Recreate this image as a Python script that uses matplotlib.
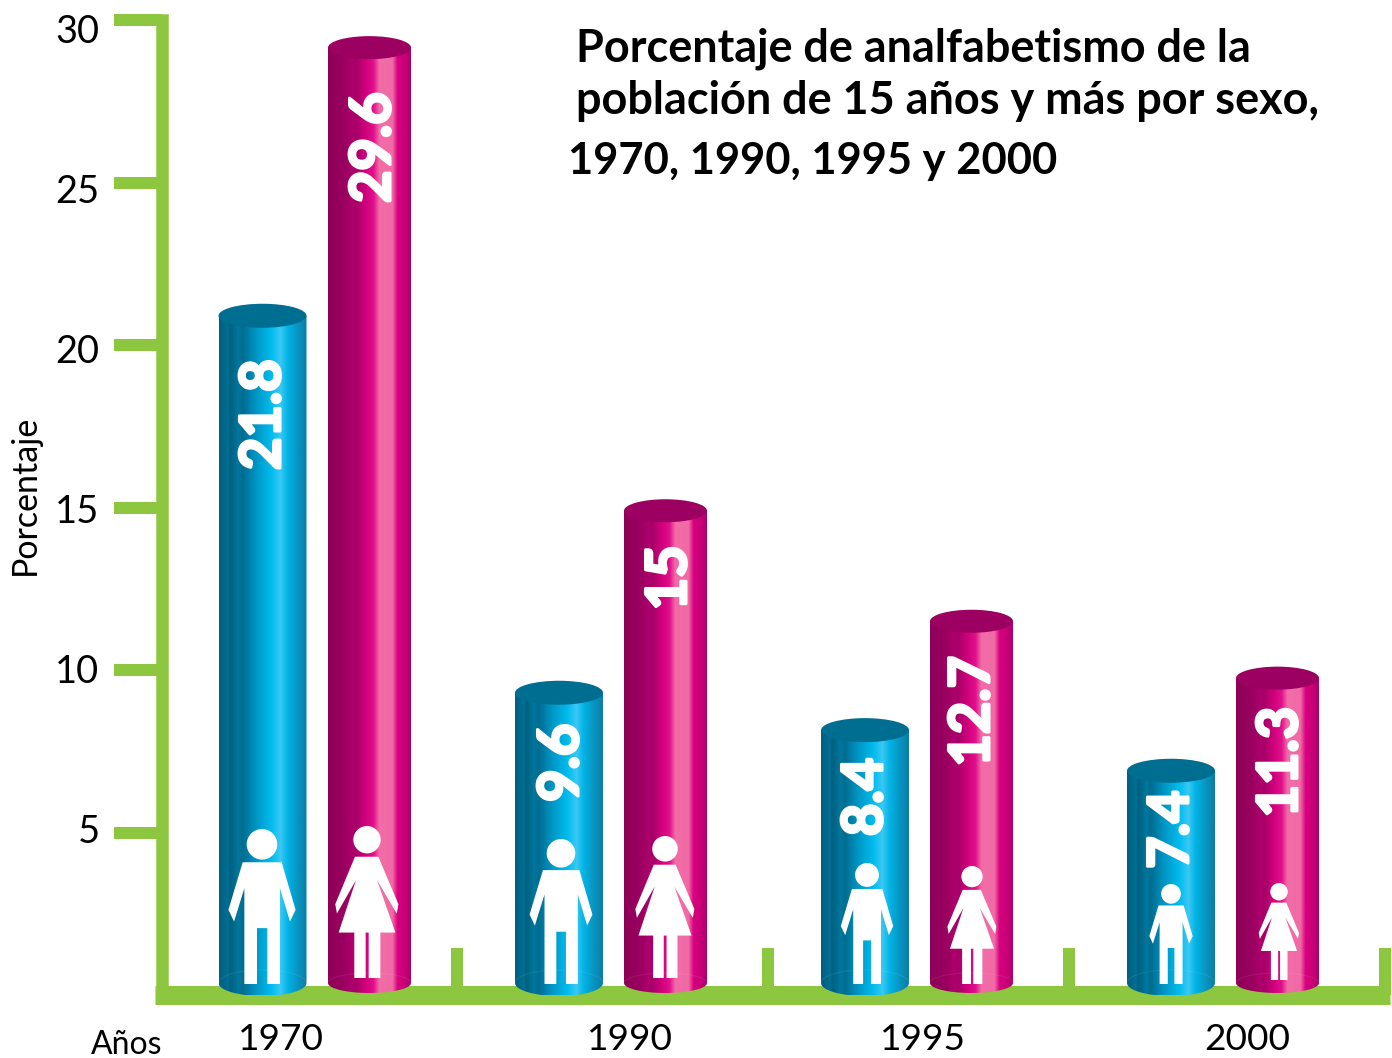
import numpy as np
import matplotlib
matplotlib.use('Agg')
import matplotlib.pyplot as plt
import matplotlib.patheffects as pe
from matplotlib.colors import LinearSegmentedColormap
from matplotlib.patches import Ellipse, Polygon, PathPatch
from matplotlib.path import Path
from matplotlib.transforms import ScaledTranslation

# Data
anios = ['1970', '1990', '1995', '2000']
hombres = ['21.8', '9.6', '8.4', '7.4']
mujeres = ['29.6', '15', '12.7', '11.3']
# heights as drawn in the picture
alto_hombres = [20.9, 9.3, 8.15, 6.9]
alto_mujeres = [29.15, 14.9, 11.5, 9.75]
yticks = [5, 10, 15, 20, 25, 30]

VERDE = '#8dc63f'
PX = 32.5  # pixels per y unit
Y0 = 995


def yd(py):
    return (Y0 - py) / PX


def pt(px):
    return px * 0.72


plt.rcParams['font.family'] = ['Lato', 'DejaVu Sans']
fig = plt.figure(figsize=(13.92, 10.58), dpi=100, facecolor='white')
ax = fig.add_axes([161.5 / 1392, (1058 - Y0) / 1058, (1390 - 161.5) / 1392, (Y0 - 20) / 1058])
ax.set_facecolor('none')

cmap_azul = LinearSegmentedColormap.from_list('azul', [
    (0, '#005f80'), (0.1, '#006f94'), (0.13, '#00617f'), (0.22, '#00779e'), (0.27, '#006c90'),
    (0.42, '#0095c4'), (0.6, '#00bdee'), (0.7, '#3cc8f4'), (0.78, '#00b5e6'), (0.9, '#0a93c0'), (1, '#0a7ea6')])
cmap_rosa = LinearSegmentedColormap.from_list('rosa', [
    (0, '#8e0057'), (0.18, '#990060'), (0.25, '#a30065'), (0.3, '#b0006e'), (0.33, '#a30065'),
    (0.45, '#d0007c'), (0.55, '#e1108c'), (0.62, '#f26ca7'), (0.78, '#f06aa5'), (0.84, '#d8007f'),
    (0.93, '#c80077'), (1, '#a90067')])
grad = np.linspace(0, 1, 256).reshape(1, -1)


def cilindro(x0, x1, alto, cmap, tapa, h_top, h_base):
    cx = (x0 + x1) / 2
    w = x1 - x0
    base = yd(983)
    t = np.linspace(np.pi, 2 * np.pi, 60)
    abajo = np.c_[cx + w / 2 * np.cos(t), base + h_base / 2 / PX * np.sin(t)]
    arriba = np.array([[x1, alto], [x0, alto]])
    verts = np.vstack([abajo, arriba, abajo[:1]])
    codes = [Path.MOVETO] + [Path.LINETO] * (len(verts) - 2) + [Path.CLOSEPOLY]
    clip = PathPatch(Path(verts, codes), transform=ax.transData, fc='none', ec='none')
    ax.add_patch(clip)
    im = ax.imshow(grad, cmap=cmap, extent=[x0, x1, base - 1, alto], aspect='auto', zorder=3)
    im.set_clip_path(clip)
    ax.add_patch(Ellipse((cx, alto), w, h_top / PX, fc=tapa, ec='none', zorder=3.1))
    # faint back edge of the base
    t2 = np.linspace(0, np.pi, 40)
    ax.plot(cx + w / 2 * np.cos(t2), base + h_base / 2 / PX * np.sin(t2), color='white',
            alpha=0.08, lw=0.8, zorder=3.2)


HOMBRE = [(128, 187), (245, 187), (287, 330), (270, 365), (240, 265), (240, 553), (202, 553), (202, 385),
          (171, 385), (171, 553), (133, 553), (133, 265), (102, 365), (85, 330)]
MUJER = [(467, 170), (537, 170), (597, 312), (592, 340), (533, 240), (588, 397), (543, 397), (543, 533),
         (508, 533), (508, 397), (499, 397), (499, 533), (465, 533), (465, 397), (418, 397), (470, 240),
         (413, 340), (408, 312)]


def figura(forma, cx0, cab, r0, pie, cx, top, fondo):
    # scale a pictogram drawn in zoom units so that it spans top..fondo pixels
    s = (fondo - top) / (pie - (cab - r0))
    v = np.array(forma, dtype=float)
    px = cx + (v[:, 0] - cx0) * s
    py = fondo - (pie - v[:, 1]) * s
    ax.add_patch(Polygon(np.c_[px, yd(py)], closed=True, fc='white', ec='none', zorder=4))
    ax.add_patch(Ellipse((cx, yd(top + r0 * s)), 2 * r0 * s, 2 * r0 * s / PX, fc='white', ec='none', zorder=4))


x_azul = [(218.5, 306.5), (515, 603), (821, 909), (1127, 1215)]
x_rosa = [(328, 411), (624, 707), (930, 1013), (1236, 1319)]
fig_h = [(262, 829, 984), (561, 839, 984), (867, 863, 984), (1171, 884, 984)]
fig_m = [(367, 826, 978), (665, 836, 978), (972, 866, 984), (1279, 883, 980)]
et_h = [99, 70, 67, 59]
et_m = [100, 67, 90, 84]
et_hx = [264, 562, 866, 1172]
et_mx = [374, 670, 973, 1281]
grueso = [pe.withStroke(linewidth=2.2, foreground='white')]

for i in range(4):
    cilindro(*x_azul[i], alto_hombres[i], cmap_azul, '#006e90', 24, 26)
    cilindro(*x_rosa[i], alto_mujeres[i], cmap_rosa, '#9c0060', 23, 20)
    cx, top, fondo = fig_h[i]
    figura(HOMBRE, 186, 133, 46, 553, cx, top, fondo)
    cx, top, fondo = fig_m[i]
    figura(MUJER, 503, 119, 41, 533, cx, top, fondo)
    ax.text(et_hx[i], alto_hombres[i] - et_h[i] / PX, hombres[i], rotation=90, color='white',
            fontsize=pt(56), fontweight='bold', ha='center', va='center', zorder=5, path_effects=grueso)
    ax.text(et_mx[i], alto_mujeres[i] - et_m[i] / PX, mujeres[i], rotation=90, color='white',
            fontsize=pt(56), fontweight='bold', ha='center', va='center', zorder=5, path_effects=grueso)

ax.set_xlim(161.5, 1390)
ax.set_ylim(0, 30)

# Axes
for lado in ['top', 'right']:
    ax.spines[lado].set_visible(False)
ax.spines['left'].set_color(VERDE)
ax.spines['left'].set_linewidth(pt(12.5))
ax.spines['bottom'].set_color(VERDE)
ax.spines['bottom'].set_linewidth(pt(19))
ax.spines['bottom'].set_capstyle('butt')
ax.spines['bottom'].set_bounds(155, 1390)

ax.set_yticks(yticks)
ax.set_yticklabels([str(v) for v in yticks])
ax.tick_params(axis='y', direction='out', length=pt(48), width=pt(12), color=VERDE,
               pad=pt(14), labelsize=pt(38), labelcolor='black')
ajuste = [4, 1.5, -1, -3.5, -6, -8.5]
for lab, dy in zip(ax.get_yticklabels(), ajuste):
    lab.set_transform(lab.get_transform() + ScaledTranslation(0, dy / 100, fig.dpi_scale_trans))

ax.set_xticks([457, 768, 1069, 1385])
ax.set_xticklabels([])
ax.tick_params(axis='x', which='major', direction='in', length=pt(47), width=pt(12), color=VERDE)
ax.set_xticks([281, 630, 923, 1247], minor=True)
ax.set_xticklabels(anios, minor=True)
ax.tick_params(axis='x', which='minor', length=0, pad=pt(28), labelsize=pt(37), labelcolor='black')

fig.text(127 / 1392, 1 - 1045 / 1058, 'Años', fontsize=pt(32), ha='center', va='center')
fig.text(25 / 1392, 1 - 495 / 1058, 'Porcentaje', fontsize=pt(34), rotation=90, ha='center', va='center')

# Title
fig.text(576 / 1392, 1 - 61 / 1058, 'Porcentaje de analfabetismo de la', fontsize=pt(45), fontweight='bold', va='baseline')
fig.text(576 / 1392, 1 - 114 / 1058, 'población de 15 años y más por sexo,', fontsize=pt(45), fontweight='bold', va='baseline')
fig.text(568 / 1392, 1 - 174 / 1058, '1970, 1990, 1995 y 2000', fontsize=pt(43.5), fontweight='bold', va='baseline')

fig.savefig('out.png', dpi=100)
